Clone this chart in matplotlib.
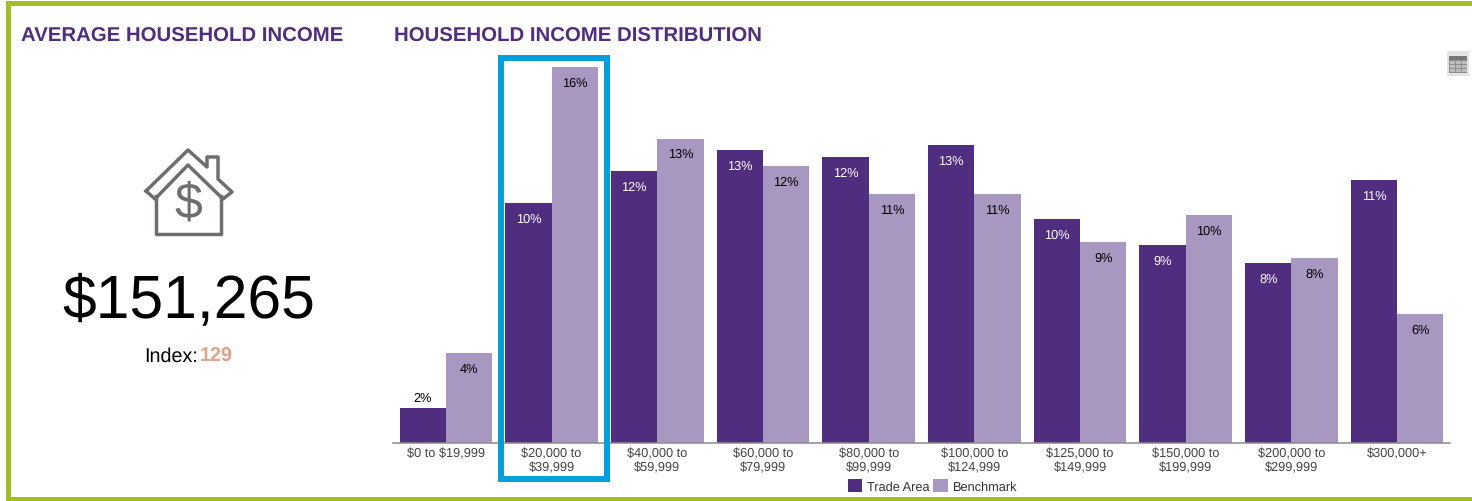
# Import libraries
import matplotlib
matplotlib.use('Agg')
import matplotlib.pyplot as plt
from matplotlib.patches import Rectangle

plt.rcParams['font.family'] = ['Liberation Sans', 'DejaVu Sans']
plt.rcParams['text.parse_math'] = False
plt.rcParams['text.hinting'] = 'no_hinting'

# Chart values
categories = ['$0 to $19,999', '$20,000 to\n$39,999', '$40,000 to\n$59,999', '$60,000 to\n$79,999',
              '$80,000 to\n$99,999', '$100,000 to\n$124,999', '$125,000 to\n$149,999',
              '$150,000 to\n$199,999', '$200,000 to\n$299,999', '$300,000+']
trade_area = [1.5, 10.4, 11.8, 12.7, 12.4, 12.9, 9.7, 8.6, 7.8, 11.4]
benchmark = [3.9, 16.3, 13.2, 12.0, 10.8, 10.8, 8.7, 9.9, 8.0, 5.6]
trade_labels = ['2%', '10%', '12%', '13%', '12%', '13%', '10%', '9%', '8%', '11%']
bench_labels = ['4%', '16%', '13%', '12%', '11%', '11%', '9%', '10%', '8%', '6%']

PURPLE = '#4f2d7f'
LILAC = '#a897c0'
GREEN = '#a4bd24'
BLUE = '#009fdb'
ICON = '#6d6e71'
W, H = 1472, 502

fig = plt.figure(figsize=(W / 100, H / 100), dpi=100, facecolor='white')

# Bar chart, axes placed in pixels
ax = fig.add_axes([393 / W, 1 - 444 / H, (1450 - 393) / W, (444 - 68) / H])
x = list(range(len(categories)))
bw = 0.438
bars1 = ax.bar([i - bw / 2 for i in x], trade_area, bw, color=PURPLE, label='Trade Area')
bars2 = ax.bar([i + bw / 2 for i in x], benchmark, bw, color=LILAC, label='Benchmark')
ax.set_xlim(-0.5, len(categories) - 0.5)
ax.set_ylim(0, 16.3)
ax.set_yticks([])
ax.set_xticks(x)
ax.set_xticklabels(categories, fontsize=9.2, color='#444444', linespacing=1.22)
ax.tick_params(axis='x', length=0, pad=2.5)
for s in ['top', 'left', 'right']:
    ax.spines[s].set_visible(False)
ax.spines['bottom'].set_color('#8c8c8c')
ax.spines['bottom'].set_linewidth(1.1)

# Data labels
for b, lab in zip(bars1, trade_labels):
    if b.get_height() < 2:
        ax.annotate(lab, (b.get_x() + b.get_width() / 2, b.get_height()), xytext=(0, 5),
                    textcoords='offset pixels', ha='center', va='bottom', fontsize=9.2, color='black')
    else:
        ax.annotate(lab, (b.get_x() + b.get_width() / 2, b.get_height()), xytext=(0, -15.5),
                    textcoords='offset pixels', ha='center', va='center', fontsize=9.2, color='white')
for b, lab in zip(bars2, bench_labels):
    ax.annotate(lab, (b.get_x() + b.get_width() / 2, b.get_height()), xytext=(0, -15.5),
                textcoords='offset pixels', ha='center', va='center', fontsize=9.2, color='black')

fig.legend(handles=[bars1, bars2], loc='center', bbox_to_anchor=(932.5 / W, 1 - 487 / H), ncol=2,
           frameon=False, fontsize=9.2, handlelength=1.1, handleheight=1.1,
           handletextpad=0.4, columnspacing=0.3, borderpad=0, labelcolor='#333333')

# Overlay in pixel coordinates for the frame, headings and icons
ov = fig.add_axes([0, 0, 1, 1], zorder=5)
ov.set_xlim(0, W)
ov.set_ylim(H, 0)
ov.axis('off')
ov.patch.set_alpha(0)

# Green frame
ov.add_patch(Rectangle((6, 2), W - 6, 5, color=GREEN, lw=0))
ov.add_patch(Rectangle((6, 2), 5, H - 2, color=GREEN, lw=0))
ov.add_patch(Rectangle((6, 498), W - 6, 4, color=GREEN, lw=0))

# Highlight box
ov.add_patch(Rectangle((501, 59), 106, 421, fill=False, edgecolor=BLUE, linewidth=4.3, joinstyle='miter'))

# Headings
ov.text(21, 42, 'AVERAGE HOUSEHOLD INCOME', fontsize=14.65, fontweight='bold', color=PURPLE, va='baseline')
ov.text(394, 42, 'HOUSEHOLD INCOME DISTRIBUTION', fontsize=14.65, fontweight='bold', color=PURPLE, va='baseline')

# Big number
ov.text(188.5, 317, '$151,265', fontsize=43.7, color='black', ha='center', va='baseline')
ov.text(144, 362, 'Index:', fontsize=14.2, color='black', va='baseline')
ov.text(200, 362, '129', fontsize=14.2, fontweight='bold', color='#dda58c', va='baseline')

# House icon
roof_x = [146, 188, 207, 207, 218, 218, 232, 223, 188, 155, 146]
roof_y = [192, 151, 168, 158, 158, 180, 193, 200, 166, 200, 192]
ov.plot(roof_x, roof_y, color=ICON, lw=2.5, solid_joinstyle='round')
ov.plot([156, 156, 221, 221], [197, 235, 235, 197], color=ICON, lw=2.5, solid_joinstyle='round')
ov.text(188.5, 205, '$', fontsize=36, color=ICON, ha='center', va='center')

# Table icon
ov.add_patch(Rectangle((1447, 52), 22, 25, color='#e4e4e4', lw=0))
ov.add_patch(Rectangle((1449, 57), 18, 17, color='#8f8f8f', lw=0))
ov.add_patch(Rectangle((1449, 57), 18, 4, color='#777777', lw=0))
for cx in [1450, 1456, 1462]:
    for cy in [62, 66, 70]:
        ov.add_patch(Rectangle((cx, cy), 4.5, 3, color='#bdbdbd', lw=0))

fig.savefig('out.png', dpi=100)
